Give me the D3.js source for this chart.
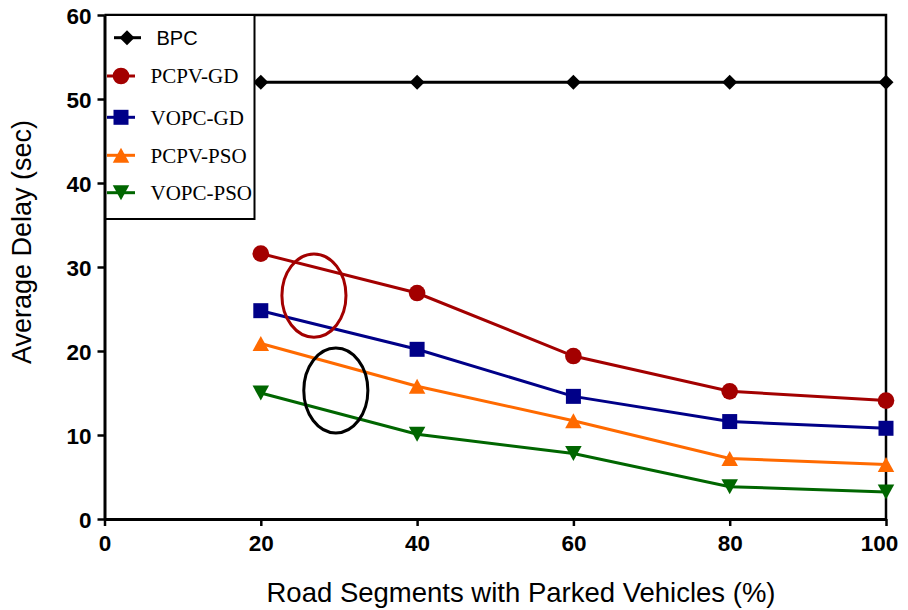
<!DOCTYPE html>
<html>
<head>
<meta charset="utf-8">
<script src="https://cdn.jsdelivr.net/npm/d3@7"></script>
<style>
  html, body { margin: 0; padding: 0; background: #fff; }
  svg { display: block; }
</style>
</head>
<body>
<svg id="chart" width="908" height="610"></svg>
<script>
// Road segments with parked vehicles (%)
const segments = [20, 40, 60, 80, 100];

// Average delay (sec) per scheme
const bpc      = [52, 52, 52, 52, 52];
const pcpvGd   = [31.6, 26.9, 19.4, 15.2, 14.1];
const vopcGd   = [24.8, 20.2, 14.6, 11.6, 10.8];
const pcpvPso  = [20.9, 15.8, 11.7, 7.2, 6.5];
const vopcPso  = [15.0, 10.1, 7.8, 3.85, 3.2];

const seriesNames = ["BPC", "PCPV-GD", "VOPC-GD", "PCPV-PSO", "VOPC-PSO"];
const xTicks = [0, 20, 40, 60, 80, 100];
const yTicks = [0, 10, 20, 30, 40, 50, 60];

// Highlight ellipses (centre and radii in data units)
const highlights = [
  { cx: 26.8, cy: 26.6, rx: 4.1, ry: 4.95, color: "#a30000" },
  { cx: 29.6, cy: 15.3, rx: 4.1, ry: 5.05, color: "#000000" }
];

const series = [
  { name: seriesNames[0], values: bpc,     color: "#000000", shape: "diamond" },
  { name: seriesNames[1], values: pcpvGd,  color: "#a30000", shape: "circle" },
  { name: seriesNames[2], values: vopcGd,  color: "#000088", shape: "square" },
  { name: seriesNames[3], values: pcpvPso, color: "#ff6a00", shape: "up" },
  { name: seriesNames[4], values: vopcPso, color: "#006600", shape: "down" }
];

const svg = d3.select("#chart");
const plotLeft = 104.5, plotRight = 886, plotTop = 15, plotBottom = 519;

const x = d3.scaleLinear().domain([0, 100]).range([plotLeft, plotRight]);
const y = d3.scaleLinear().domain([0, 60]).range([plotBottom, plotTop]);

// marker path centred on (0,0)
function markerPath(shape, s) {
  const p = d3.path();
  if (shape === "circle") {
    p.arc(0, 0, s * 0.52, 0, 2 * Math.PI);
  } else if (shape === "square") {
    const h = s * 0.5;
    p.rect(-h, -h, 2 * h, 2 * h);
  } else if (shape === "up") {
    const h = s * 0.5;
    p.moveTo(0, -h); p.lineTo(h * 1.1, h); p.lineTo(-h * 1.1, h); p.closePath();
  } else if (shape === "down") {
    const h = s * 0.5;
    p.moveTo(0, h); p.lineTo(h * 1.1, -h); p.lineTo(-h * 1.1, -h); p.closePath();
  } else if (shape === "diamond") {
    const h = s * 0.5;
    p.moveTo(0, -h); p.lineTo(h, 0); p.lineTo(0, h); p.lineTo(-h, 0); p.closePath();
  }
  return p.toString();
}
const markerSize = { circle: 16, square: 15, up: 15, down: 15, diamond: 15 };

// frame: top and right edges
svg.append("path")
  .attr("d", `M${plotLeft},${plotTop}H${plotRight}V${plotBottom}`)
  .attr("fill", "none").attr("stroke", "#000").attr("stroke-width", 2.5);

// axes
const xAxis = svg.append("g")
  .attr("transform", `translate(0,${plotBottom})`)
  .call(d3.axisBottom(x).tickValues(xTicks).tickSize(7).tickSizeOuter(0).tickPadding(6));
const yAxis = svg.append("g")
  .attr("transform", `translate(${plotLeft},0)`)
  .call(d3.axisLeft(y).tickValues(yTicks).tickSize(7).tickSizeOuter(0).tickPadding(6));

[xAxis, yAxis].forEach(g => {
  g.select(".domain").attr("stroke", "#000").attr("stroke-width", 3);
  g.selectAll(".tick line").attr("stroke", "#000").attr("stroke-width", 2.5);
  g.selectAll(".tick text")
    .attr("fill", "#000")
    .style("font-family", "'Liberation Sans', Arial, sans-serif")
    .style("font-weight", "bold")
    .style("font-size", "22.5px");
});
xAxis.selectAll(".tick text").attr("dy", "0.85em");
// keep the last label inside the page edge
xAxis.selectAll(".tick text").filter(d => d === 100).attr("dx", -7);
yAxis.selectAll(".tick text").attr("dy", "0.36em");

// axis titles
svg.append("text")
  .attr("x", 521).attr("y", 602)
  .attr("text-anchor", "middle")
  .style("font-family", "'Liberation Sans', Arial, sans-serif")
  .style("font-size", "27.5px")
  .text("Road Segments with Parked Vehicles (%)");

svg.append("text")
  .attr("transform", "translate(31,242) rotate(-90)")
  .attr("text-anchor", "middle")
  .style("font-family", "'Liberation Sans', Arial, sans-serif")
  .style("font-size", "27px")
  .text("Average Delay (sec)");

// lines and markers
const line = d3.line().x((d, i) => x(segments[i])).y(d => y(d));
series.forEach(s => {
  svg.append("path")
    .datum(s.values)
    .attr("d", line)
    .attr("fill", "none")
    .attr("stroke", s.color)
    .attr("stroke-width", 3);
  svg.append("g").selectAll("path")
    .data(s.values)
    .join("path")
    .attr("transform", (d, i) => `translate(${x(segments[i])},${y(d)})`)
    .attr("d", markerPath(s.shape, markerSize[s.shape]))
    .attr("fill", s.color);
});

// highlight ellipses
svg.append("g").selectAll("ellipse")
  .data(highlights)
  .join("ellipse")
  .attr("cx", d => x(d.cx))
  .attr("cy", d => y(d.cy))
  .attr("rx", d => x(d.cx + d.rx) - x(d.cx))
  .attr("ry", d => y(d.cy - d.ry) - y(d.cy))
  .attr("fill", "none")
  .attr("stroke", d => d.color)
  .attr("stroke-width", 3);

// legend
const legend = svg.append("g");
legend.append("rect")
  .attr("x", 105.5).attr("y", 15)
  .attr("width", 149).attr("height", 204)
  .attr("fill", "#fff").attr("stroke", "#000").attr("stroke-width", 2);

const legendRows = [37.7, 76, 117.3, 155.3, 192.7];
series.forEach((s, i) => {
  const cy = legendRows[i];
  const isBpc = i === 0;
  const x0 = isBpc ? 114 : 107, x1 = isBpc ? 141 : 135, mx = isBpc ? 127 : 121;
  legend.append("line")
    .attr("x1", x0).attr("x2", x1).attr("y1", cy).attr("y2", cy)
    .attr("stroke", s.color).attr("stroke-width", 3);
  legend.append("path")
    .attr("transform", `translate(${mx},${cy})`)
    .attr("d", markerPath(s.shape, markerSize[s.shape]))
    .attr("fill", s.color);
  legend.append("text")
    .attr("x", isBpc ? 156.5 : 150.5)
    .attr("y", cy + (isBpc ? 7.3 : 7.2))
    .style("font-family", isBpc ? "'Liberation Sans', Arial, sans-serif"
                                : "'Liberation Serif', 'Times New Roman', serif")
    .style("font-size", isBpc ? "20px" : "21px")
    .attr("fill", "#000")
    .text(s.name);
});
</script>
</body>
</html>
